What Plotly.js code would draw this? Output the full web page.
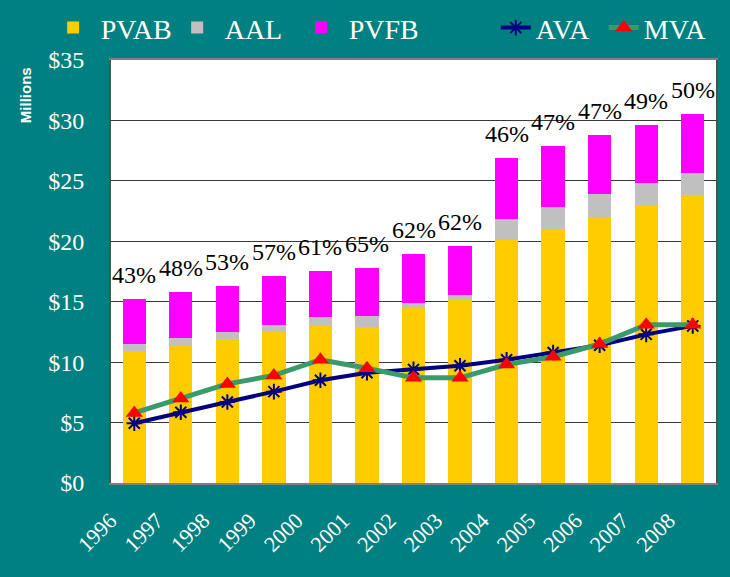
<!DOCTYPE html>
<html>
<head>
<meta charset="utf-8">
<script src="https://cdn.plot.ly/plotly-3.0.1.min.js"></script>
<style>html,body{margin:0;padding:0;background:#008080;}#chart{width:730px;height:577px;}</style>
</head>
<body>
<div id="chart"></div>
<script>
const years = ["1996","1997","1998","1999","2000","2001","2002","2003","2004","2005","2006","2007","2008"];
const pvab = [10.9, 11.4, 11.9, 12.5, 13.1, 12.9, 14.5, 15.2, 20.1, 21.0, 22.0, 23.0, 23.8];
const aal  = [0.6, 0.6, 0.6, 0.6, 0.6, 0.9, 0.4, 0.35, 1.75, 1.85, 1.9, 1.8, 1.85];
const pvfb = [3.7, 3.8, 3.8, 4.0, 3.85, 4.0, 4.05, 4.05, 5.05, 5.05, 4.9, 4.85, 4.85];
const ava  = [4.94, 5.85, 6.7, 7.56, 8.5, 9.13, 9.4, 9.7, 10.2, 10.8, 11.4, 12.3, 13.0];
const mva  = [5.8, 7.0, 8.2, 8.9, 10.2, 9.5, 8.7, 8.7, 9.8, 10.45, 11.5, 13.1, 13.1];
const pctLabels = ["43%","48%","53%","57%","61%","65%","62%","62%","46%","47%","47%","49%","50%"];

const serif = "'Liberation Serif', 'Times New Roman', serif";
const totals = years.map((y,i)=>pvab[i]+aal[i]+pvfb[i]);

const traces = [
  {type:'bar', name:'PVAB', x:years, y:pvab, marker:{color:'#FFCC00'}, legend:'legend'},
  {type:'bar', name:'AAL', x:years, y:aal, marker:{color:'#C0C0C0'}, legend:'legend'},
  {type:'bar', name:'PVFB', x:years, y:pvfb, marker:{color:'#FF00FF'}, legend:'legend'},
  {type:'scatter', mode:'lines+markers', name:'AVA', x:years, y:ava,
   line:{color:'#000080', width:4}, marker:{symbol:'asterisk-open', size:13, color:'#000080', line:{color:'#000080', width:2}}, legend:'legend2'},
  {type:'scatter', mode:'lines+markers', name:'MVA', x:years, y:mva,
   line:{color:'#3A9A6A', width:5}, marker:{symbol:'triangle-up', size:15, color:'#FF0000'}, legend:'legend2'}
];

// category index positions on the category axis
const annotations = years.map((y,i)=>({
  x:i, y:totals[i], xref:'x', yref:'y', text:pctLabels[i], showarrow:false,
  yanchor:'bottom', yshift:9, font:{family:serif, size:24, color:'#000000'}
}));
annotations.push({
  xref:'paper', yref:'paper', x:-0.142, y:0.917, text:'<b>Millions</b>', showarrow:false,
  textangle:-90, xanchor:'center', yanchor:'middle',
  font:{family:"'Liberation Sans', Arial, sans-serif", size:15, color:'#FFFFFF'}
});

const layout = {
  width:730, height:577,
  paper_bgcolor:'#008080', plot_bgcolor:'#FFFFFF',
  margin:{l:111, r:14, t:60, b:94, autoexpand:false},
  barmode:'stack', bargap:0.5,
  font:{family:serif, color:'#FFFFFF'},
  xaxis:{type:'category', tickangle:-45, tickfont:{family:serif, size:22, color:'#FFFFFF'},
         showline:true, linecolor:'#808080', linewidth:2, mirror:true, ticks:'', showgrid:false,
         ticklabelshift:-24, ticklabelstandoff:14, range:[-0.5, 12.5], autorange:false},
  yaxis:{range:[0,35], dtick:5, tickprefix:'$', tickfont:{family:serif, size:24, color:'#FFFFFF'},
         showgrid:true, gridcolor:'#383838', gridwidth:1, zeroline:false,
         showline:true, linecolor:'#505050', linewidth:2, mirror:true, ticks:'', ticklabelstandoff:20},
  legend:{orientation:'h', x:-0.108, xanchor:'left', y:1.135, yanchor:'top', bgcolor:'rgba(0,0,0,0)',
          font:{family:serif, size:28, color:'#FFFFFF'}, traceorder:'normal', itemwidth:45,
          entrywidth:64, entrywidthmode:'pixels'},
  legend2:{orientation:'h', x:0.636, xanchor:'left', y:1.135, yanchor:'top', bgcolor:'rgba(0,0,0,0)',
          font:{family:serif, size:28, color:'#FFFFFF'}, traceorder:'normal', itemwidth:30,
          entrywidth:63, entrywidthmode:'pixels'},
  showlegend:true,
  annotations:annotations
};

Plotly.newPlot('chart', traces, layout, {displayModeBar:false, staticPlot:true});
</script>
</body>
</html>
